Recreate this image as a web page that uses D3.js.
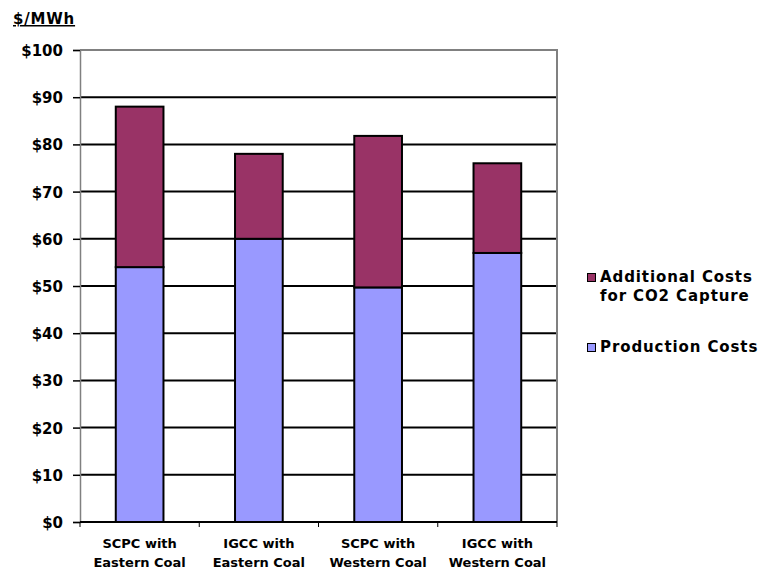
<!DOCTYPE html>
<html>
<head>
<meta charset="utf-8">
<script src="https://cdn.jsdelivr.net/npm/d3@7"></script>
<style>
  html, body { margin: 0; padding: 0; background: #fff; }
  svg { display: block; }
  text { font-family: "DejaVu Sans", Verdana, sans-serif; font-weight: bold; fill: #000; }
</style>
</head>
<body>
<svg id="chart" width="776" height="569"></svg>
<script>
// Cost of electricity by plant type and coal, $/MWh
const categories = [
  ["SCPC with", "Eastern Coal"],
  ["IGCC with", "Eastern Coal"],
  ["SCPC with", "Western Coal"],
  ["IGCC with", "Western Coal"]
];
const productionCosts = [54, 60, 49.7, 57];
const captureCosts = [34, 18, 32.1, 19];
const yTicks = [0, 10, 20, 30, 40, 50, 60, 70, 80, 90, 100];
const seriesNames = ["Additional Costs|for CO2 Capture", "Production Costs"];
const seriesColors = ["#993366", "#9999FF"];

const svg = d3.select("#chart");
const plot = { left: 80, top: 50, right: 557, bottom: 522 };

const x = d3.scaleBand()
  .domain(d3.range(categories.length))
  .range([plot.left, plot.right])
  .paddingInner(0.6)
  .paddingOuter(0.3);

const y = d3.scaleLinear().domain([0, 100]).range([plot.bottom, plot.top]);

// Gridlines
svg.append("g")
  .selectAll("line")
  .data(yTicks.filter(t => t > 0 && t < 100))
  .join("line")
  .attr("x1", plot.left).attr("x2", plot.right)
  .attr("y1", d => y(d)).attr("y2", d => y(d))
  .attr("stroke", "#000").attr("stroke-width", 2);

// Plot frame (top and right edges)
svg.append("path")
  .attr("d", `M${plot.left},${y(100)}H${plot.right}V${plot.bottom}`)
  .attr("fill", "none").attr("stroke", "#808080").attr("stroke-width", 2);

// Stacked bars
const stackData = categories.map((c, i) => ({ i, prod: productionCosts[i], cap: captureCosts[i] }));
const bars = svg.append("g");
bars.selectAll("rect.prod")
  .data(stackData)
  .join("rect")
  .attr("class", "prod")
  .attr("x", d => x(d.i)).attr("width", x.bandwidth())
  .attr("y", d => y(d.prod)).attr("height", d => y(0) - y(d.prod))
  .attr("fill", seriesColors[1]).attr("stroke", "#000").attr("stroke-width", 2);
bars.selectAll("rect.cap")
  .data(stackData)
  .join("rect")
  .attr("class", "cap")
  .attr("x", d => x(d.i)).attr("width", x.bandwidth())
  .attr("y", d => y(d.prod + d.cap)).attr("height", d => y(d.prod) - y(d.prod + d.cap))
  .attr("fill", seriesColors[0]).attr("stroke", "#000").attr("stroke-width", 2);

// Y axis
const yAxis = d3.axisLeft(y).tickValues(yTicks).tickSize(7).tickPadding(10)
  .tickFormat(d => "$" + d);
const gy = svg.append("g").attr("transform", `translate(${plot.left},0)`).call(yAxis);
gy.select(".domain").attr("stroke", "#808080").attr("stroke-width", 1.5);
gy.selectAll(".tick line").attr("stroke", "#000").attr("stroke-width", 1.5);
gy.selectAll(".tick text")
  .attr("font-size", 15).attr("font-family", null)
  .attr("dy", "0.36em");

// X axis with ticks at category boundaries
svg.append("line")
  .attr("x1", plot.left).attr("x2", plot.right)
  .attr("y1", plot.bottom).attr("y2", plot.bottom)
  .attr("stroke", "#000").attr("stroke-width", 2);
const step = x.step();
svg.append("g")
  .selectAll("line")
  .data(d3.range(categories.length + 1))
  .join("line")
  .attr("x1", d => plot.left + d * step).attr("x2", d => plot.left + d * step)
  .attr("y1", plot.bottom).attr("y2", plot.bottom + 5)
  .attr("stroke", "#000").attr("stroke-width", 1);

const xl = svg.append("g").selectAll("text")
  .data(stackData)
  .join("text")
  .attr("text-anchor", "middle")
  .attr("font-size", 13)
  .attr("x", d => x(d.i) + x.bandwidth() / 2);
xl.append("tspan").attr("x", d => x(d.i) + x.bandwidth() / 2).attr("y", 548)
  .text(d => categories[d.i][0]);
xl.append("tspan").attr("x", d => x(d.i) + x.bandwidth() / 2).attr("y", 567)
  .text(d => categories[d.i][1]);

// Units label
svg.append("text")
  .attr("x", 13).attr("y", 24)
  .attr("font-size", 15).attr("letter-spacing", 0.8)
  .attr("text-decoration", "underline")
  .text("$/MWh");

// Legend
const legend = svg.append("g");
const legendRows = [
  { name: seriesNames[0], color: seriesColors[0], y: 282 },
  { name: seriesNames[1], color: seriesColors[1], y: 352 }
];
legendRows.forEach(r => {
  legend.append("rect")
    .attr("x", 587.5).attr("y", r.y - 8.5).attr("width", 8).attr("height", 8)
    .attr("fill", r.color).attr("stroke", "#000").attr("stroke-width", 1);
  const t = legend.append("text").attr("font-size", 15).attr("letter-spacing", 0.9);
  r.name.split("|").forEach((line, k) => {
    t.append("tspan").attr("x", 600).attr("y", r.y + k * 19).text(line);
  });
});
</script>
</body>
</html>
